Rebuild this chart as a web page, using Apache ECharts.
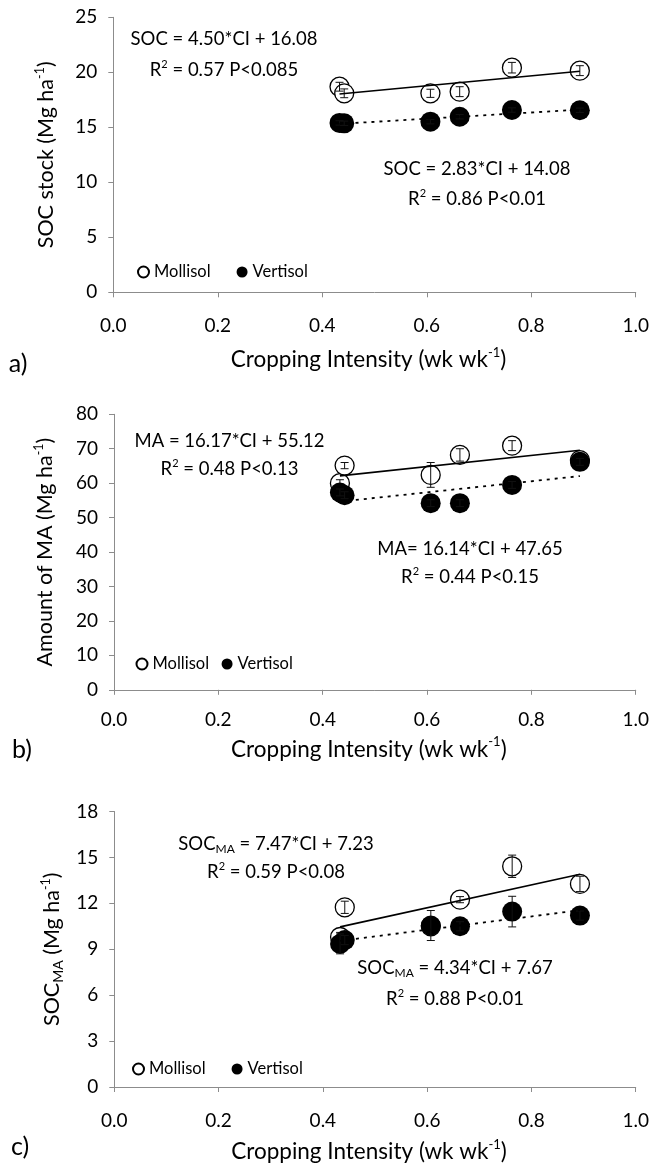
<!DOCTYPE html>
<html><head><meta charset="utf-8">
<script src="https://cdn.jsdelivr.net/npm/echarts@6/dist/echarts.min.js"></script>
<style>html,body{margin:0;padding:0;background:#fff}#c{width:652px;height:1166px}</style>
</head><body><div id="c"></div>
<script>
// ---------------- DATA ----------------
const ci = [0.433, 0.442, 0.607, 0.663, 0.763, 0.893];
const xTicks = [0, 0.2, 0.4, 0.6, 0.8, 1.0];

// a) SOC stock
const socMollisol = [18.69, 18.09, 18.09, 18.24, 20.42, 20.15];
const socMollisolErr = [0.40, 0.40, 0.37, 0.45, 0.48, 0.45];
const socVertisol = [15.40, 15.36, 15.51, 15.96, 16.57, 16.55];
const socVertisolErr = [0.20, 0.20, 0.20, 0.20, 0.20, 0.20];
const socFitX = [0.433, 0.893];
const socMollisolFit = [18.03, 20.10];
const socVertisolFit = [15.31, 16.61];

// b) Amount of MA
const maMollisol = [60.0, 65.1, 62.4, 68.2, 70.9, 66.7];
const maMollisolErr = [1.0, 0.9, 3.6, 1.8, 1.45, 1.0];
const maVertisol = [57.3, 56.5, 54.2, 54.2, 59.5, 66.2];
const maVertisolErr = [1.0, 1.0, 1.0, 1.0, 1.0, 1.0];
const maFitX = [0.433, 0.893];
const maMollisolFit = [62.12, 69.56];
const maVertisolFit = [54.64, 62.06];

// c) SOC_MA
const socmaMollisol = [9.80, 11.74, 10.50, 12.24, 14.42, 13.27];
const socmaMollisolErr = [0.30, 0.40, 0.30, 0.20, 0.73, 0.50];
const socmaVertisol = [9.35, 9.60, 10.55, 10.50, 11.46, 11.20];
const socmaVertisolErr = [0.65, 0.30, 0.98, 0.30, 1.00, 0.30];
const socmaFitX = [0.433, 0.893];
const socmaMollisolFit = [10.46, 13.90];
const socmaVertisolFit = [9.55, 11.55];

// text
const legendNames = ['Mollisol', 'Vertisol'];
const xTitle = 'Cropping Intensity (wk wk{sup|-1})';
const yTitles = ['SOC stock (Mg ha{sup|-1})', 'Amount of MA (Mg ha{sup|-1})', 'SOC{sub|MA} (Mg ha{sup|-1})'];
const panelLetters = ['a)', 'b)', 'c)'];
const eqTexts = [
  ['SOC = 4.50*CI + 16.08', 'R{sup|2} = 0.57 P<0.085', 'SOC = 2.83*CI + 14.08', 'R{sup|2} = 0.86 P<0.01'],
  ['MA = 16.17*CI + 55.12', 'R{sup|2} = 0.48 P<0.13', 'MA= 16.14*CI + 47.65', 'R{sup|2} = 0.44 P<0.15'],
  ['SOC{sub|MA} = 7.47*CI + 7.23', 'R{sup|2} = 0.59 P<0.08', 'SOC{sub|MA} = 4.34*CI + 7.67', 'R{sup|2} = 0.88 P<0.01']
];

// ---------------- LAYOUT ----------------
const FONT = 'Lato';
const AX = '#8c8c8c';
const panels = [
  { grid: {left: 113.3, top: 17.3, width: 524.2, height: 275}, yMax: 25, yInt: 5, yGap: 54,
    xLabelMargin: 24, xNameGap: 54,
    mol: socMollisol, molErr: socMollisolErr, ver: socVertisol, verErr: socVertisolErr,
    fitX: socFitX, molFit: socMollisolFit, verFit: socVertisolFit,
    leg: {left: 137, top: 263.5, gap: 26},
    eqPos: [[224, 39.5], [224, 70], [477, 169.5], [477, 199]], letterPos: [18, 364] },
  { grid: {left: 114, top: 414.3, width: 523.5, height: 275.5}, yMax: 80, yInt: 10, yGap: 56,
    xLabelMargin: 21, xNameGap: 46,
    mol: maMollisol, molErr: maMollisolErr, ver: maVertisol, verErr: maVertisolErr,
    fitX: maFitX, molFit: maMollisolFit, verFit: maVertisolFit,
    leg: {left: 135.5, top: 655.5, gap: 12.5},
    eqPos: [[229.5, 441], [229.5, 469], [470, 549], [470, 577]], letterPos: [22, 750] },
  { grid: {left: 114.3, top: 811.5, width: 523.2, height: 276}, yMax: 18, yInt: 3, yGap: 47,
    xLabelMargin: 24, xNameGap: 51,
    mol: socmaMollisol, molErr: socmaMollisolErr, ver: socmaVertisol, verErr: socmaVertisolErr,
    fitX: socmaFitX, molFit: socmaMollisolFit, verFit: socmaVertisolFit,
    leg: {left: 132, top: 1060.5, gap: 26},
    eqPos: [[276, 844], [276, 872], [455, 968], [455, 999]], letterPos: [20, 1147] }
];

const RICH = {
  sup: {fontFamily: FONT, fontSize: 11, lineHeight: 11, verticalAlign: 'top', color: '#000'},
  sub: {fontFamily: FONT, fontSize: 12, lineHeight: 12, verticalAlign: 'bottom', color: '#000'}
};

function errSeries(name, idx, vals, errs, z) {
  return {
    type: 'custom', name: name, xAxisIndex: idx, yAxisIndex: idx, silent: true, z: z,
    data: ci.map((x, i) => [x, vals[i], errs[i]]),
    encode: {x: 0, y: 1},
    renderItem: function (params, api) {
      const x = api.value(0), y = api.value(1), e = api.value(2);
      const t = api.coord([x, y + e]), b = api.coord([x, y - e]);
      const hw = 4;
      const st = {stroke: '#111', lineWidth: 1, fill: null};
      return {type: 'group', children: [
        {type: 'line', shape: {x1: t[0], y1: t[1], x2: b[0], y2: b[1]}, style: st},
        {type: 'line', shape: {x1: t[0] - hw, y1: t[1], x2: t[0] + hw, y2: t[1]}, style: st},
        {type: 'line', shape: {x1: b[0] - hw, y1: b[1], x2: b[0] + hw, y2: b[1]}, style: st}
      ]};
    }
  };
}

const grids = [], xAxes = [], yAxes = [], series = [], legends = [], graphics = [];
panels.forEach((p, i) => {
  grids.push(Object.assign({}, p.grid));
  xAxes.push({
    type: 'value', gridIndex: i, min: xTicks[0], max: xTicks[xTicks.length - 1], interval: 0.2,
    axisLine: {show: true, lineStyle: {color: AX, width: 1}},
    axisTick: {show: true, length: 5, inside: false, lineStyle: {color: AX}},
    splitLine: {show: false},
    axisLabel: {margin: p.xLabelMargin, fontFamily: FONT, fontSize: 19, color: '#000', formatter: v => v.toFixed(1)},
    name: xTitle, nameLocation: 'middle', nameGap: p.xNameGap,
    nameTextStyle: {fontFamily: FONT, fontSize: 22.5, color: '#000', lineHeight: 27, padding: [0, 12, 0, 0], rich: {
      sup: {fontFamily: FONT, fontSize: 13, lineHeight: 13, verticalAlign: 'top', color: '#000'}}}
  });
  yAxes.push({
    type: 'value', gridIndex: i, min: 0, max: p.yMax, interval: p.yInt,
    axisLine: {show: true, lineStyle: {color: AX, width: 1}},
    axisTick: {show: true, length: 5, inside: false, lineStyle: {color: AX}},
    splitLine: {show: false},
    axisLabel: {margin: 16, fontFamily: FONT, fontSize: 19, color: '#000'},
    name: yTitles[i], nameLocation: 'middle', nameGap: p.yGap,
    nameTextStyle: {fontFamily: FONT, fontSize: 21.5, color: '#000', lineHeight: 26, rich: {
      sup: {fontFamily: FONT, fontSize: 12.5, lineHeight: 12, verticalAlign: 'top', color: '#000'},
      sub: {fontFamily: FONT, fontSize: 14, lineHeight: 14, verticalAlign: 'bottom', color: '#000'}}}
  });
  series.push({
    type: 'scatter', name: legendNames[0], xAxisIndex: i, yAxisIndex: i, z: 2,
    symbol: 'circle', symbolSize: 19,
    itemStyle: {color: '#fff', borderColor: '#000', borderWidth: 1.3, opacity: 1},
    data: ci.map((x, k) => [x, p.mol[k]])
  });
  series.push(errSeries('errM' + i, i, p.mol, p.molErr, 3));
  series.push({
    type: 'scatter', name: legendNames[1], xAxisIndex: i, yAxisIndex: i, z: 4,
    symbol: 'circle', symbolSize: 20,
    itemStyle: {color: '#000', opacity: 1},
    data: ci.map((x, k) => [x, p.ver[k]])
  });
  series.push(errSeries('errV' + i, i, p.ver, p.verErr, 5));
  series.push({
    type: 'line', name: 'fitM' + i, xAxisIndex: i, yAxisIndex: i, symbol: 'none', silent: true, z: 6,
    lineStyle: {color: '#000', width: 1.6, type: 'solid'},
    data: p.fitX.map((x, k) => [x, p.molFit[k]])
  });
  series.push({
    type: 'line', name: 'fitV' + i, xAxisIndex: i, yAxisIndex: i, symbol: 'none', silent: true, z: 6,
    lineStyle: {color: '#000', width: 1.8, type: [3, 5]},
    data: p.fitX.map((x, k) => [x, p.verFit[k]])
  });
  legends.push({
    data: legendNames, left: p.leg.left, top: p.leg.top, padding: 0,
    itemWidth: 11, itemHeight: 11, itemGap: p.leg.gap, icon: 'circle', selectedMode: false,
    textStyle: {fontFamily: FONT, fontSize: 16.5, color: '#000'}
  });
  eqTexts[i].forEach((t, k) => {
    graphics.push({
      type: 'text', x: p.eqPos[k][0], y: p.eqPos[k][1], silent: true,
      style: {text: t, fontFamily: FONT, fontSize: 18.5, fill: '#000', lineHeight: 22,
        align: 'center', verticalAlign: 'middle', rich: RICH}
    });
  });
  graphics.push({
    type: 'text', x: p.letterPos[0], y: p.letterPos[1], silent: true,
    style: {text: panelLetters[i], fontFamily: FONT, fontSize: 25, fill: '#000',
      align: 'center', verticalAlign: 'middle'}
  });
});

const chart = echarts.init(document.getElementById('c'), null, {renderer: 'canvas'});
chart.setOption({
  animation: false,
  backgroundColor: '#fff',
  grid: grids, xAxis: xAxes, yAxis: yAxes, series: series, legend: legends, graphic: graphics
});
</script></body></html>
